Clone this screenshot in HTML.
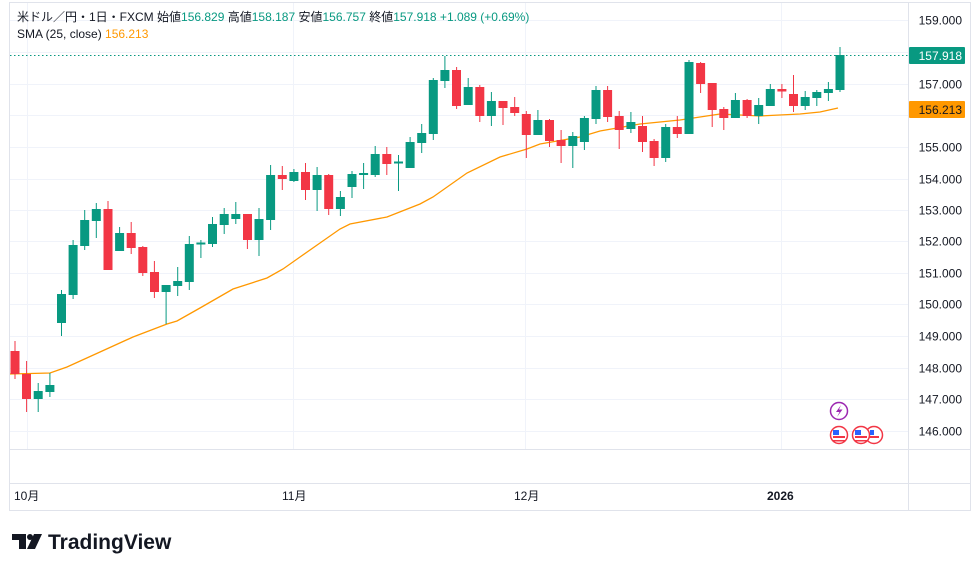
<!DOCTYPE html>
<html><head><meta charset="utf-8"><style>
body{margin:0;background:#fff;width:980px;height:571px;overflow:hidden;font-family:"Liberation Sans","Noto Sans CJK JP",sans-serif}
svg{position:absolute;left:0;top:0}
.pre{white-space:pre}
</style></head><body>
<svg width="980" height="571" viewBox="0 0 980 571" font-family="Liberation Sans, Noto Sans CJK JP, sans-serif">
<rect x="9.5" y="2.5" width="961" height="508" fill="#fff" stroke="#e0e3eb"/>
<g stroke="#f0f3fa" stroke-width="1">
<line x1="10" x2="908" y1="20.5" y2="20.5"/><line x1="10" x2="908" y1="52.5" y2="52.5"/><line x1="10" x2="908" y1="84.5" y2="84.5"/><line x1="10" x2="908" y1="115.5" y2="115.5"/><line x1="10" x2="908" y1="147.5" y2="147.5"/><line x1="10" x2="908" y1="179.5" y2="179.5"/><line x1="10" x2="908" y1="210.5" y2="210.5"/><line x1="10" x2="908" y1="241.5" y2="241.5"/><line x1="10" x2="908" y1="273.5" y2="273.5"/><line x1="10" x2="908" y1="304.5" y2="304.5"/><line x1="10" x2="908" y1="336.5" y2="336.5"/><line x1="10" x2="908" y1="368.5" y2="368.5"/><line x1="10" x2="908" y1="399.5" y2="399.5"/><line x1="10" x2="908" y1="431.5" y2="431.5"/>
<line x1="27.5" x2="27.5" y1="3" y2="449"/><line x1="293.5" x2="293.5" y1="3" y2="449"/><line x1="525.5" x2="525.5" y1="3" y2="449"/><line x1="781.5" x2="781.5" y1="3" y2="449"/>
</g>
<g stroke="#e0e3eb"><line x1="10" x2="970" y1="449.5" y2="449.5"/><line x1="10" x2="970" y1="483.5" y2="483.5"/><line x1="908.5" x2="908.5" y1="3" y2="510"/></g>
<line x1="10" x2="908" y1="55.5" y2="55.5" stroke="#089981" stroke-dasharray="1.5,2.5"/>
<polyline fill="none" stroke="#ff9800" stroke-width="1.3" points="10,374 50,373 67,367 100,352 133,337 167,324 177,321 200,308 233,289 267,278 283,269 300,257 320,243 340,229 350,224 387,217 420,204 433,197 467,173 500,157 527,149 540,144 580,137 600,131 640,124 680,120 700,117 720,114 760,116 800,114 820,112 838,108"/>
<g stroke-width="1">
<g stroke="#f23645" fill="#f23645">
<line x1="15" x2="15" y1="341" y2="379"/><rect x="10.5" y="351" width="9" height="23" stroke="none"/>
<line x1="26.6" x2="26.6" y1="361" y2="412"/><rect x="22" y="374" width="9" height="25" stroke="none"/>
<line x1="108" x2="108" y1="201" y2="270"/><rect x="103.5" y="209" width="9" height="61" stroke="none"/>
<line x1="131.2" x2="131.2" y1="222" y2="254"/><rect x="126.7" y="233" width="9" height="15" stroke="none"/>
<line x1="142.8" x2="142.8" y1="246" y2="276"/><rect x="138.3" y="247" width="9" height="26" stroke="none"/>
<line x1="154.4" x2="154.4" y1="261" y2="298"/><rect x="150" y="272" width="9" height="20" stroke="none"/>
<line x1="247.4" x2="247.4" y1="214" y2="249"/><rect x="243" y="214" width="9" height="26" stroke="none"/>
<line x1="282.3" x2="282.3" y1="166" y2="190"/><rect x="277.8" y="175" width="9" height="4" stroke="none"/>
<line x1="305.5" x2="305.5" y1="163" y2="200"/><rect x="301" y="172" width="9" height="18" stroke="none"/>
<line x1="328.7" x2="328.7" y1="174" y2="215"/><rect x="324.2" y="175" width="9" height="34" stroke="none"/>
<line x1="386.8" x2="386.8" y1="147" y2="175"/><rect x="382.3" y="154" width="9" height="10" stroke="none"/>
<line x1="456.6" x2="456.6" y1="67" y2="109"/><rect x="452" y="70" width="9" height="36" stroke="none"/>
<line x1="479.8" x2="479.8" y1="85" y2="122"/><rect x="475.3" y="87" width="9" height="29" stroke="none"/>
<line x1="503" x2="503" y1="101" y2="125"/><rect x="498.5" y="101" width="9" height="7" stroke="none"/>
<line x1="514.7" x2="514.7" y1="97" y2="116"/><rect x="510.2" y="107" width="9" height="6" stroke="none"/>
<line x1="526.3" x2="526.3" y1="111" y2="158"/><rect x="521.8" y="114" width="9" height="21" stroke="none"/>
<line x1="549.5" x2="549.5" y1="119" y2="147"/><rect x="545" y="120" width="9" height="21" stroke="none"/>
<line x1="561.1" x2="561.1" y1="130" y2="163"/><rect x="556.6" y="140" width="9" height="6" stroke="none"/>
<line x1="607.6" x2="607.6" y1="86" y2="122"/><rect x="603.1" y="90" width="9" height="27" stroke="none"/>
<line x1="619.2" x2="619.2" y1="111" y2="149"/><rect x="614.7" y="116" width="9" height="14" stroke="none"/>
<line x1="642.5" x2="642.5" y1="116" y2="152"/><rect x="638" y="126" width="9" height="16" stroke="none"/>
<line x1="654.1" x2="654.1" y1="139" y2="166"/><rect x="649.6" y="141" width="9" height="17" stroke="none"/>
<line x1="677.3" x2="677.3" y1="116" y2="138"/><rect x="672.8" y="127" width="9" height="7" stroke="none"/>
<line x1="700.6" x2="700.6" y1="62" y2="93"/><rect x="696.1" y="63" width="9" height="21" stroke="none"/>
<line x1="712.2" x2="712.2" y1="83" y2="127"/><rect x="707.7" y="83" width="9" height="27" stroke="none"/>
<line x1="723.8" x2="723.8" y1="107" y2="130"/><rect x="719.3" y="109" width="9" height="9" stroke="none"/>
<line x1="747.1" x2="747.1" y1="99" y2="118"/><rect x="742.6" y="100" width="9" height="16" stroke="none"/>
<line x1="781.9" x2="781.9" y1="84" y2="98"/><rect x="777.4" y="89" width="9" height="2.5" stroke="none"/>
<line x1="793.5" x2="793.5" y1="75" y2="112"/><rect x="789" y="94" width="9" height="12" stroke="none"/>
</g>
<g stroke="#089981" fill="#089981">
<line x1="38.2" x2="38.2" y1="383" y2="412"/><rect x="33.7" y="391" width="9" height="8" stroke="none"/>
<line x1="49.9" x2="49.9" y1="373" y2="397"/><rect x="45.4" y="385" width="9" height="7" stroke="none"/>
<line x1="61.5" x2="61.5" y1="290" y2="336"/><rect x="57" y="294" width="9" height="29" stroke="none"/>
<line x1="73.1" x2="73.1" y1="240" y2="299"/><rect x="68.6" y="245" width="9" height="50" stroke="none"/>
<line x1="84.7" x2="84.7" y1="210" y2="250"/><rect x="80.2" y="220" width="9" height="26" stroke="none"/>
<line x1="96.3" x2="96.3" y1="203" y2="238"/><rect x="91.8" y="209" width="9" height="12" stroke="none"/>
<line x1="119.6" x2="119.6" y1="227" y2="251"/><rect x="115.1" y="233" width="9" height="18" stroke="none"/>
<line x1="166.1" x2="166.1" y1="285" y2="324"/><rect x="161.6" y="285" width="9" height="7" stroke="none"/>
<line x1="177.7" x2="177.7" y1="267" y2="296"/><rect x="173.2" y="281" width="9" height="5" stroke="none"/>
<line x1="189.3" x2="189.3" y1="236" y2="290"/><rect x="184.8" y="244" width="9" height="38" stroke="none"/>
<line x1="200.9" x2="200.9" y1="240" y2="258"/><rect x="196.4" y="242.5" width="9" height="2" stroke="none"/>
<line x1="212.5" x2="212.5" y1="217" y2="247"/><rect x="208" y="224" width="9" height="20" stroke="none"/>
<line x1="224.2" x2="224.2" y1="208" y2="234"/><rect x="219.7" y="214" width="9" height="11" stroke="none"/>
<line x1="235.8" x2="235.8" y1="202" y2="224"/><rect x="231.3" y="214" width="9" height="5" stroke="none"/>
<line x1="259" x2="259" y1="208" y2="256"/><rect x="254.5" y="219" width="9" height="21" stroke="none"/>
<line x1="270.6" x2="270.6" y1="165" y2="230"/><rect x="266.1" y="175" width="9" height="45" stroke="none"/>
<line x1="293.9" x2="293.9" y1="169" y2="182"/><rect x="289.4" y="172" width="9" height="9" stroke="none"/>
<line x1="317.1" x2="317.1" y1="167" y2="211"/><rect x="312.6" y="175" width="9" height="15" stroke="none"/>
<line x1="340.4" x2="340.4" y1="191" y2="216"/><rect x="335.9" y="197" width="9" height="12" stroke="none"/>
<line x1="352" x2="352" y1="171" y2="198"/><rect x="347.5" y="174" width="9" height="13" stroke="none"/>
<line x1="363.6" x2="363.6" y1="163" y2="189"/><rect x="359.1" y="173" width="9" height="2" stroke="none"/>
<line x1="375.2" x2="375.2" y1="146" y2="177"/><rect x="370.7" y="154" width="9" height="21" stroke="none"/>
<line x1="398.5" x2="398.5" y1="155" y2="191"/><rect x="394" y="161.5" width="9" height="2" stroke="none"/>
<line x1="410.1" x2="410.1" y1="137" y2="168"/><rect x="405.6" y="142" width="9" height="26" stroke="none"/>
<line x1="421.7" x2="421.7" y1="124" y2="153"/><rect x="417.2" y="133" width="9" height="10" stroke="none"/>
<line x1="433.3" x2="433.3" y1="78" y2="140"/><rect x="428.8" y="80" width="9" height="54" stroke="none"/>
<line x1="444.9" x2="444.9" y1="56" y2="88"/><rect x="440.4" y="70" width="9" height="11" stroke="none"/>
<line x1="468.2" x2="468.2" y1="78" y2="105"/><rect x="463.7" y="87" width="9" height="18" stroke="none"/>
<line x1="491.4" x2="491.4" y1="92" y2="126"/><rect x="486.9" y="101" width="9" height="15" stroke="none"/>
<line x1="537.9" x2="537.9" y1="110" y2="135"/><rect x="533.4" y="120" width="9" height="15" stroke="none"/>
<line x1="572.8" x2="572.8" y1="132" y2="168"/><rect x="568.3" y="136" width="9" height="10" stroke="none"/>
<line x1="584.4" x2="584.4" y1="116" y2="150"/><rect x="579.9" y="118" width="9" height="24" stroke="none"/>
<line x1="596" x2="596" y1="86" y2="124"/><rect x="591.5" y="90" width="9" height="29" stroke="none"/>
<line x1="630.9" x2="630.9" y1="112" y2="133"/><rect x="626.4" y="122" width="9" height="7" stroke="none"/>
<line x1="665.7" x2="665.7" y1="124" y2="162"/><rect x="661.2" y="127" width="9" height="31" stroke="none"/>
<line x1="689" x2="689" y1="60" y2="134"/><rect x="684.5" y="62" width="9" height="72" stroke="none"/>
<line x1="735.4" x2="735.4" y1="93" y2="118"/><rect x="730.9" y="100" width="9" height="18" stroke="none"/>
<line x1="758.7" x2="758.7" y1="98" y2="124"/><rect x="754.2" y="105" width="9" height="11" stroke="none"/>
<line x1="770.3" x2="770.3" y1="84" y2="106"/><rect x="765.8" y="89" width="9" height="17" stroke="none"/>
<line x1="805.2" x2="805.2" y1="91" y2="110"/><rect x="800.7" y="97" width="9" height="9" stroke="none"/>
<line x1="816.8" x2="816.8" y1="90" y2="106"/><rect x="812.3" y="92" width="9" height="6" stroke="none"/>
<line x1="828.4" x2="828.4" y1="82" y2="101"/><rect x="823.9" y="89" width="9" height="4" stroke="none"/>
<line x1="840" x2="840" y1="47" y2="92"/><rect x="835.5" y="55" width="9" height="35" stroke="none"/>
</g>
</g>
<circle cx="839" cy="411" r="8.5" fill="#fff" stroke="#9c27b0" stroke-width="1.5"/>
<path d="M841 405 L836 412 L839.5 412 L837 417 L842.5 409.5 L839 409.5 Z" fill="#9c27b0"/>
<g stroke="#f23645" stroke-width="1.5">
<circle cx="874" cy="435" r="8.5" fill="#fff"/><circle cx="861" cy="435" r="8.5" fill="#fff"/><circle cx="839" cy="435" r="8.5" fill="#fff"/>
</g>
<g fill="#f23645"><rect x="833" y="436" width="12" height="2"/><rect x="855" y="436" width="12" height="2"/><rect x="869" y="436" width="10" height="2"/><rect x="833" y="440" width="12" height="1.5"/><rect x="855" y="440" width="12" height="1.5"/></g>
<g fill="#2962ff"><rect x="833" y="430" width="6" height="5"/><rect x="855" y="430" width="6" height="5"/><rect x="870" y="430" width="4" height="5"/></g>
<g font-size="12" fill="#131722" text-anchor="end">
<text x="962" y="24.5">159.000</text><text x="962" y="88.5">157.000</text><text x="962" y="151.5">155.000</text><text x="962" y="183.5">154.000</text><text x="962" y="214.5">153.000</text><text x="962" y="245.5">152.000</text><text x="962" y="277.5">151.000</text><text x="962" y="308.5">150.000</text><text x="962" y="340.5">149.000</text><text x="962" y="372.5">148.000</text><text x="962" y="403.5">147.000</text><text x="962" y="435.5">146.000</text>
</g>
<rect x="909" y="47" width="56" height="17" fill="#089981" rx="1"/>
<text x="962" y="60" font-size="12" fill="#fff" text-anchor="end">157.918</text>
<rect x="909" y="101" width="56" height="17" fill="#ff9800" rx="1"/>
<text x="962" y="114" font-size="12" fill="#131722" text-anchor="end">156.213</text>
<g font-size="12" fill="#131722"><text x="14" y="500">10月</text><text x="282" y="500">11月</text><text x="514" y="500">12月</text><text x="767" y="500" font-weight="bold">2026</text></g>
<g font-size="12" class="pre"><text x="17" y="21" fill="#131722">米ドル／円・1日・FXCM  始値<tspan fill="#089981">156.829</tspan>  高値<tspan fill="#089981">158.187</tspan>  安値<tspan fill="#089981">156.757</tspan>  終値<tspan fill="#089981">157.918  +1.089 (+0.69%)</tspan></text>
<text x="17" y="38" fill="#131722">SMA (25, close)  <tspan fill="#ff9800">156.213</tspan></text></g>
<path d="M12 534 H26 V549 H19 V540 H12 Z" fill="#131722"/><circle cx="30" cy="537" r="3" fill="#131722"/><path d="M34 534 H42 L35 549 H27 Z" fill="#131722"/>
<text x="48" y="549" font-size="21" font-weight="bold" fill="#131722">TradingView</text>
</svg>
</body></html>
